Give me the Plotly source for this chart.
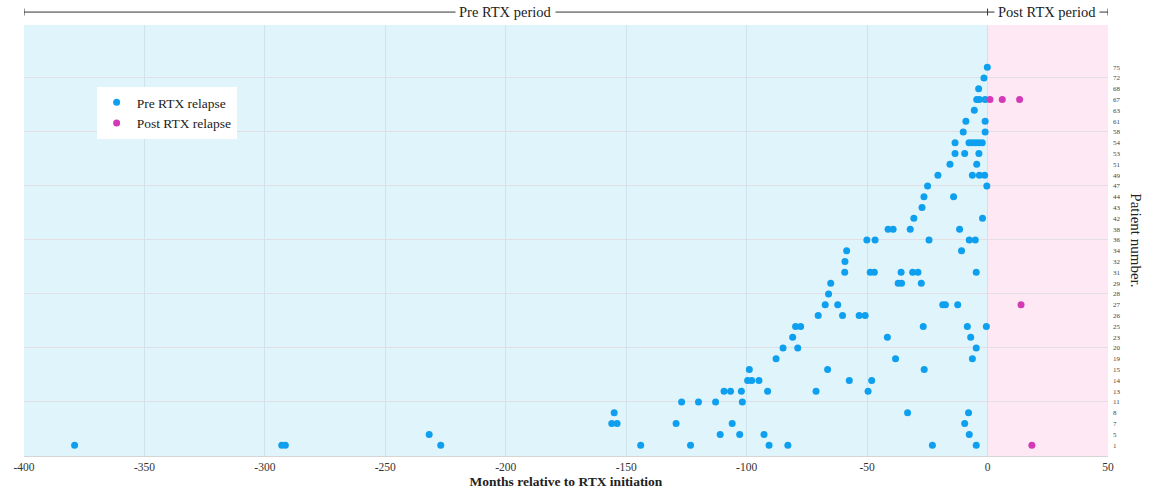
import plotly.graph_objects as go

# Patients shown on the right-hand axis, bottom to top
patients = [1, 5, 7, 8, 11, 13, 14, 15, 19, 20, 23, 25, 26, 27, 28, 29, 31, 32,
            34, 36, 38, 42, 43, 44, 47, 49, 51, 53, 54, 58, 61, 63, 67, 68, 72, 75]

# Relapses before rituximab start: patient number and month
pre_patient = (
    [1] * 10 + [5] * 5 + [7] * 5 + [8] * 3 + [11] * 4 + [13] * 6 + [14] * 5 +
    [15] * 3 + [19] * 3 + [20] * 3 + [23] * 3 + [25] * 5 + [26] * 4 + [27] * 5 +
    [28] * 1 + [29] * 4 + [31] * 7 + [32] * 1 + [34] * 2 + [36] * 5 + [38] * 4 +
    [42] * 2 + [43] * 1 + [44] * 2 + [47] * 2 + [49] * 4 + [51] * 2 + [53] * 3 +
    [54] * 6 + [58] * 2 + [61] * 2 + [63] * 1 + [67] * 3 + [68] * 1 + [72] * 1 +
    [75] * 1
)
pre_month = [
    -379, -293, -291.5, -227, -144, -123.3, -90.7, -82.9, -22.9, -4.7,    # 1
    -231.8, -111, -102.9, -92.8, -7.6,                                   # 5
    -156, -153.8, -129.3, -106, -9.5,                                    # 7
    -155, -33.2, -7.9,                                                   # 8
    -127, -120, -112.9, -101.8,                                          # 11
    -109.4, -106.7, -102.2, -91.3, -71.2, -49.6,                         # 13
    -99.6, -97.9, -94.9, -57.4, -48.1,                                   # 14
    -98.9, -66.4, -26.3,                                                 # 15
    -87.8, -38.2, -6.3,                                                  # 19
    -84.9, -78.8, -4.7,                                                  # 20
    -80.9, -41.6, -7.0,                                                  # 23
    -79.7, -77.6, -26.7, -8.4, -0.5,                                     # 25
    -70.3, -60.2, -53.3, -50.8,                                          # 26
    -67.4, -62.2, -18.6, -17.5, -12.4,                                   # 27
    -66.0,                                                               # 28
    -65.1, -37.1, -35.7, -27.5,                                          # 29
    -59.3, -48.7, -47.0, -35.9, -31.1, -28.9, -4.7,                      # 31
    -59.2,                                                               # 32
    -58.5, -10.8,                                                        # 34
    -50.1, -46.7, -24.3, -7.6, -5.1,                                     # 36
    -41.3, -39.2, -32.1, -11.6,                                          # 38
    -30.6, -2.1,                                                         # 42
    -27.2,                                                               # 43
    -26.4, -14.1,                                                        # 44
    -24.9, -0.3,                                                         # 47
    -20.6, -6.3, -3.4, -1.2,                                             # 49
    -15.6, -4.5,                                                         # 51
    -13.5, -9.5, -3.6,                                                   # 53
    -13.5, -7.7, -6.3, -4.9, -3.6, -2.2,                                 # 54
    -10.1, -1.0,                                                         # 58
    -9.0, -1.0,                                                          # 61
    -5.5,                                                                # 63
    -4.5, -3.4, -1.0,                                                    # 67
    -3.7,                                                                # 68
    -1.5,                                                                # 72
    -0.1,                                                                # 75
]

# Relapses after rituximab start
post_patient = [1, 27, 67, 67, 67]
post_month = [18.4, 13.9, 1.0, 6.1, 13.3]

# x-axis ticks, written with a plain hyphen for negatives
x_ticks = [-400, -350, -300, -250, -200, -150, -100, -50, 0, 50]
x_tick_labels = [str(v) for v in x_ticks]

pre_color = "#0ea0ef"
post_color = "#d43ab6"
serif = "Liberation Serif"

row = {p: i for i, p in enumerate(patients)}

fig = go.Figure()
fig.add_trace(go.Scatter(
    x=pre_month, y=[row[p] for p in pre_patient], mode="markers",
    name="Pre RTX relapse",
    marker=dict(color=pre_color, size=7, line=dict(width=0)),
))
fig.add_trace(go.Scatter(
    x=post_month, y=[row[p] for p in post_patient], mode="markers",
    name="Post RTX relapse",
    marker=dict(color=post_color, size=7, line=dict(width=0)),
))

# Shaded periods
fig.add_shape(type="rect", xref="x", yref="paper", x0=-400, x1=0, y0=0, y1=1,
              fillcolor="#e0f4fc", line=dict(width=0), layer="below")
fig.add_shape(type="rect", xref="x", yref="paper", x0=0, x1=50, y0=0, y1=1,
              fillcolor="#fde8f4", line=dict(width=0), layer="below")

# Period brackets above the plot
bracket_y = 1.030
line_style = dict(color="#333333", width=1)
for x0, x1 in [(-400, 0), (0, 50)]:
    fig.add_shape(type="line", xref="x", yref="paper", x0=x0, x1=x1,
                  y0=bracket_y, y1=bracket_y, line=line_style)
for xe in [-400, 0, 50]:
    fig.add_shape(type="line", xref="x", yref="paper", x0=xe, x1=xe,
                  y0=bracket_y - 0.008, y1=bracket_y + 0.008, line=line_style)
for label, xc in [("Pre RTX period", -200), ("Post RTX period", 24.5)]:
    fig.add_annotation(x=xc, y=bracket_y, xref="x", yref="paper", text=label,
                       showarrow=False, bgcolor="white", borderpad=3,
                       xanchor="center", yanchor="middle",
                       font=dict(family=serif, size=14.5, color="#222222"))

# Right-hand axis title, reading downwards
fig.add_annotation(x=1.026, y=0.5, xref="paper", yref="paper", text="Patient number.",
                   textangle=90, showarrow=False, xanchor="center", yanchor="middle",
                   font=dict(family=serif, size=15, color="#222222"))

fig.update_layout(
    width=1153, height=493,
    margin=dict(l=24, r=45, t=25, b=37),
    paper_bgcolor="white",
    plot_bgcolor="#e0f4fc",
    showlegend=True,
    legend=dict(x=0.067, y=0.856, xanchor="left", yanchor="top",
                bgcolor="white", borderwidth=0,
                font=dict(family=serif, size=13.5, color="#222222"),
                tracegroupgap=0),
    xaxis=dict(
        range=[-400, 50], tickmode="array", tickvals=x_ticks, ticktext=x_tick_labels,
        showgrid=True, gridcolor="#cfe3ec", gridwidth=1,
        zeroline=False, showline=True, linecolor="#d5d5d5",
        automargin=False,
        ticks="", tickfont=dict(family=serif, size=11.5, color="#333333"),
        title=dict(text="<b>Months relative to RTX initiation</b>", standoff=4,
                   font=dict(family=serif, size=13.5, color="#222222")),
    ),
    yaxis=dict(
        side="right", range=[-1, 38.9], automargin=False,
        tickmode="array", tickvals=list(range(len(patients))),
        ticktext=[str(p) for p in patients],
        showgrid=False, zeroline=False, showline=False, ticks="",
        ticklabelstandoff=4,
        tickfont=dict(family=serif, size=7, color="#444444"),
        minor=dict(tickmode="array", tickvals=list(range(4, len(patients), 5)),
                   showgrid=True, gridcolor="#e3dde6", gridwidth=1, ticks=""),
    ),
)

fig.write_html("out.html")
